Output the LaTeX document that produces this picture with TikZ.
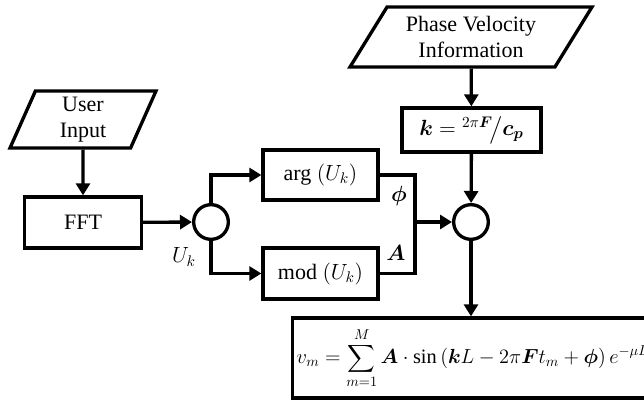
\RequirePackage{fix-cm}
\documentclass[tikz,border=0pt]{standalone}
\usepackage{fontspec}
\setmainfont{Liberation Serif}
\usepackage{amsmath}
\usepackage{bm}
\usetikzlibrary{arrows.meta,shapes.geometric}

\begin{document}
\begin{tikzpicture}[x=0.75pt,y=-0.75pt,line width=2.5pt,
    font=\fontsize{16.5}{19.5}\selectfont,
    block/.style={draw,rectangle,align=center,inner sep=2pt},
    datain/.style={draw,trapezium,trapezium stretches body,align=center,inner sep=1pt},
    junction/.style={draw,circle,minimum size=26pt,inner sep=0pt},
    arr/.style={-{Triangle[length=9pt,width=10.5pt]}}]
    \useasboundingbox (0,0) rectangle (644,400);
    \clip (0,0) rectangle (644,400);

    % Left side: user input and transform
    \node[datain,trapezium left angle=62,trapezium right angle=118,minimum width=109.5pt,minimum height=42.75pt] (input) at (83,119.5) {User\\Input};
    \node[block,minimum width=87.75pt,minimum height=38.25pt] (fft) at (83,222.5) {FFT};
    \node[junction] (split) at (211,222) {};
    \node (uk) at (184,257) {$U_k$};

    % Phase and amplitude branches
    \node[block,minimum width=86.25pt,minimum height=37.5pt] (argbox) at (320.5,175) {arg $(U_k)$};
    \node[block,minimum width=86.25pt,minimum height=38.25pt] (modbox) at (320.5,273.5) {mod $(U_k)$};
    \coordinate (merge) at (415,222);
    \node (phi) at (399,196) {$\bm{\phi}$};
    \node (amp) at (396,253) {$\bm{A}$};

    % Right side: wave number
    \node[datain,trapezium left angle=50,trapezium right angle=130,minimum width=181.5pt,minimum height=45pt] (phase) at (471,37) {Phase Velocity\\Information};
    \node[block,minimum width=104.25pt,minimum height=33pt] (kbox) at (471.5,130) {$\bm{k} = {}^{2\pi\bm{F}}\!\big/\bm{c_p}$};
    \node[junction] (join) at (471,222) {};

    % Output signal
    \node[block,anchor=west,minimum height=60pt,inner xsep=3pt,font=\fontsize{15.3}{18}\selectfont] (sumbox) at (291,358)
        {$\displaystyle v_m = \sum_{m=1}^{M} \bm{A}\cdot\sin\,(\bm{k}L - 2\pi\bm{F}t_m + \bm{\phi})\, e^{-\mu L}$};

    % Connectors
    \draw[arr] (input) -- (fft);
    \draw[arr] (fft) -- (split);
    \draw[arr] (split.north) |- (argbox.west);
    \draw[arr] (split.south) |- (modbox.west);
    \draw (argbox.east) -| (merge);
    \draw (modbox.east) -| (merge);
    \draw[arr] (merge) -- (join);
    \draw[arr] (phase) -- (kbox);
    \draw[arr] (kbox) -- (join);
    \draw[arr] (join.south) -- (join.south |- sumbox.north);
\end{tikzpicture}
\end{document}
